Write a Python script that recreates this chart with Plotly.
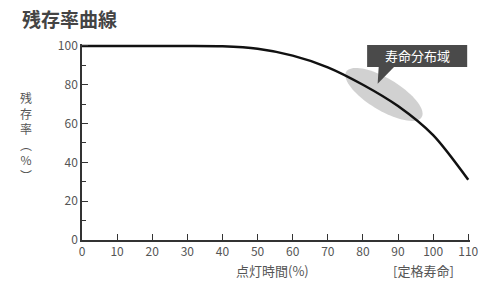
import numpy as np
import plotly.graph_objects as go

# data
hours_pct = [0, 10, 20, 30, 40, 50, 60, 70, 80, 90, 100, 110]
survival_pct = [100, 100, 100, 100, 99.8, 98.5, 95, 89, 80, 69, 54, 31]
x_ticks = list(range(0, 111, 10))
y_ticks = list(range(0, 101, 20))

title_text = "残存率曲線"
y_title = "残<br>存<br>率<br>︵<br>%<br>︶"
x_title = "点灯時間(%)"
x_note = "[定格寿命]"
box_text = "寿命分布域"

FONT = "Noto Sans CJK JP"
GRAY = "#555555"

# plot geometry
W, H = 490, 282
ML, MR, MT, MB = 82, 20, 44, 42
XR = [0, 110.5]
YR = [0, 101]
px_x = (W - ML - MR) / (XR[1] - XR[0])
px_y = (H - MT - MB) / (YR[1] - YR[0])

# spread ellipse (center in data units, axes in pixels)
ell_cx, ell_cy = 86, 75
ell_a, ell_b, ell_ang = 44, 16, np.deg2rad(31)
t = np.linspace(0, 2 * np.pi, 80)
dx = ell_a * np.cos(t) * np.cos(ell_ang) - ell_b * np.sin(t) * np.sin(ell_ang)
dy = ell_a * np.cos(t) * np.sin(ell_ang) + ell_b * np.sin(t) * np.cos(ell_ang)
ex = ell_cx + dx / px_x
ey = ell_cy - dy / px_y
ell_path = "M " + " L ".join(f"{a:.3f},{b:.3f}" for a, b in zip(ex, ey)) + " Z"

fig = go.Figure()
fig.add_trace(go.Scatter(x=hours_pct, y=survival_pct, mode="lines",
                         line=dict(color="#111111", width=2.5, shape="spline", smoothing=0.8),
                         hoverinfo="skip", showlegend=False))

fig.add_shape(type="path", path=ell_path, xref="x", yref="y", layer="below",
              fillcolor="rgba(185,185,185,0.65)", line=dict(width=0))

# callout box
bx0, bx1, by0, by1 = 81.2, 109.7, 89.2, 100.5
fig.add_shape(type="rect", x0=bx0, x1=bx1, y0=by0, y1=by1, xref="x", yref="y",
              fillcolor="#4a4a4a", line=dict(width=0))
fig.add_shape(type="path", xref="x", yref="y",
              path=f"M 84.5,{by0+0.2} L 89,{by0+0.2} L 84.2,80.5 Z",
              fillcolor="#4a4a4a", line=dict(width=0))
fig.add_annotation(x=(bx0 + bx1) / 2, y=(by0 + by1) / 2, xref="x", yref="y",
                   text=box_text, showarrow=False,
                   font=dict(family=FONT, size=13, color="white"))

# text annotations placed in pixels, converted to paper coords
texts = [
    (20, 19, f"<b>{title_text}</b>", "left", 19, "#444444"),
    (26, 136, y_title, "center", 12, GRAY),
    (272, 270, x_title, "center", 13, GRAY),
    (423, 270, x_note, "center", 13, GRAY),
]
for px, py, txt, anc, sz, col in texts:
    fig.add_annotation(x=(px - ML) / (W - ML - MR), y=1 - (py - MT) / (H - MT - MB),
                       xref="paper", yref="paper", text=txt, showarrow=False,
                       xanchor=anc, yanchor="middle",
                       font=dict(family=FONT, size=sz, color=col))

fig.update_layout(
    width=W, height=H, margin=dict(l=ML, r=MR, t=MT, b=MB),
    paper_bgcolor="white", plot_bgcolor="white",
    font=dict(family=FONT, size=12, color=GRAY),
    xaxis=dict(range=XR, tickvals=x_ticks, ticks="inside", ticklen=6, tickcolor="#333",
               showline=True, linecolor="#333", linewidth=1.5, showgrid=False, zeroline=False,
               tickfont=dict(size=12, color=GRAY)),
    yaxis=dict(range=YR, tickvals=y_ticks, ticks="inside", ticklen=6, tickcolor="#333",
               showline=True, linecolor="#333", linewidth=1.5, showgrid=False, zeroline=False,
               tickfont=dict(size=12, color=GRAY),
               minor=dict(dtick=10, ticks="inside", ticklen=4, tickcolor="#333")),
)
fig.write_html("out.html", config={"displayModeBar": False},
               post_script="document.body.style.margin='0';")
